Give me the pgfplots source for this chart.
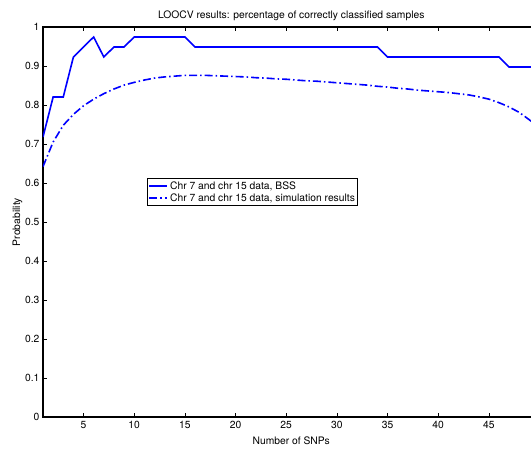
\documentclass[border=0pt]{standalone}
\usepackage{pgfplots}
\pgfplotsset{compat=1.18}
\usepackage{fontspec}
\setmainfont{TeX Gyre Heros}
\begin{document}
\begin{tikzpicture}
\begin{axis}[
  at={(0,0)}, anchor=south west,
  scale only axis, width=496.5pt, height=390pt,
  xmin=1, xmax=50, ymin=0, ymax=1,
  xtick={5,10,15,20,25,30,35,40,45},
  ytick={0,0.1,0.2,0.3,0.4,0.5,0.6,0.7,0.8,0.9,1},
  yticklabel style={/pgf/number format/fixed},
  /pgf/number format/assume math mode=true,
  tick align=inside, major tick length=4pt,
  tick style={black, line width=0.6pt},
  axis line style={line width=1.2pt},
  ticklabel style={font=\fontsize{10.3}{12}\selectfont},
  xticklabel style={yshift=-1pt},
  title={LOOCV results: percentage of correctly classified samples},
  title style={font=\fontsize{10.3}{12}\selectfont, yshift=-3pt},
  xlabel={Number of SNPs},
  ylabel={Probability},
  label style={font=\fontsize{10.3}{12}\selectfont},
  xlabel style={yshift=-1pt},
  ylabel style={yshift=-4pt},
  legend style={at={(axis cs:11.27,0.613)}, anchor=north west,
    draw=black, line width=0.9pt, font=\fontsize{10.3}{12}\selectfont,
    inner sep=1pt, row sep=-1pt, cells={anchor=west}},
  legend image code/.code={\draw[#1] (0pt,0pt) -- (18pt,0pt);},
]
\addplot[blue, line width=1.6pt, sharp plot] coordinates {
(1,0.7179) (2,0.8205) (3,0.8205) (4,0.9231) (5,0.9487) (6,0.9744)
(7,0.9231) (8,0.9487) (9,0.9487) (10,0.9744) (11,0.9744) (12,0.9744)
(13,0.9744) (14,0.9744) (15,0.9744) (16,0.9487) (17,0.9487) (18,0.9487)
(19,0.9487) (20,0.9487) (21,0.9487) (22,0.9487) (23,0.9487) (24,0.9487)
(25,0.9487) (26,0.9487) (27,0.9487) (28,0.9487) (29,0.9487) (30,0.9487)
(31,0.9487) (32,0.9487) (33,0.9487) (34,0.9487) (35,0.9231) (36,0.9231)
(37,0.9231) (38,0.9231) (39,0.9231) (40,0.9231) (41,0.9231) (42,0.9231)
(43,0.9231) (44,0.9231) (45,0.9231) (46,0.9231) (47,0.8974) (48,0.8974)
(49,0.8974) (50,0.8974)
};
\addlegendentry{Chr 7 and chr 15 data, BSS}
\addplot[blue, line width=1.6pt, dash pattern=on 8pt off 3pt on 1.5pt off 3pt] coordinates {
(1,0.642) (2,0.705) (3,0.748) (4,0.776) (5,0.798) (6,0.815) (7,0.829)
(8,0.841) (9,0.851) (10,0.858) (11,0.864) (12,0.869) (13,0.872)
(14,0.874) (15,0.876) (16,0.876) (17,0.876) (18,0.875) (19,0.874)
(20,0.873) (21,0.872) (22,0.870) (23,0.869) (24,0.867) (25,0.866)
(26,0.864) (27,0.862) (28,0.861) (29,0.859) (30,0.857) (31,0.855)
(32,0.853) (33,0.851) (34,0.848) (35,0.846) (36,0.843) (37,0.841)
(38,0.838) (39,0.836) (40,0.834) (41,0.832) (42,0.829) (43,0.826)
(44,0.821) (45,0.815) (46,0.806) (47,0.795) (48,0.781) (49,0.762)
(50,0.740)
};
\addlegendentry{Chr 7 and chr 15 data, simulation results}
\end{axis}
\pgfresetboundingbox
\useasboundingbox (-43pt,-33pt) rectangle (488pt,417pt);
\end{tikzpicture}
\end{document}
